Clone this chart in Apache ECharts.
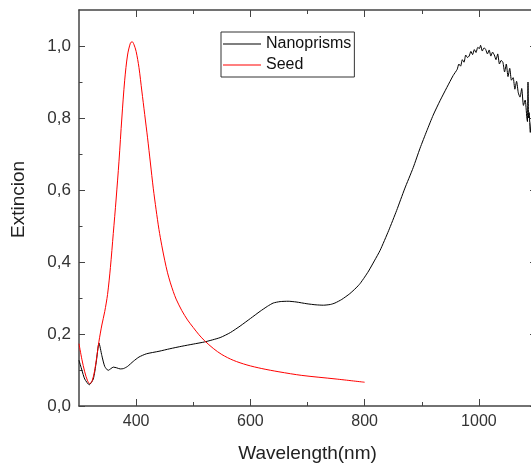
<!DOCTYPE html>
<html><head><meta charset="utf-8">
<script src="https://cdn.jsdelivr.net/npm/echarts@6/dist/echarts.min.js"></script>
<style>html,body{margin:0;padding:0;background:#fff}#c{width:531px;height:465px}</style>
</head><body><div id="c"></div>
<script>
const xMajor = [400, 600, 800, 1000];
const xMinor = [500, 700, 900, 1100];
const yMajor = [0, 0.2, 0.4, 0.6, 0.8, 1.0];
const yMinor = [0.1, 0.3, 0.5, 0.7, 0.9];

const seedWl = [300,305,310,315,319,323,327,331,335,340,345,350,355,360,365,370,375,380,385,390,393,396,400,405,410,415,420,425,430,435,440,445,450,455,460,465,470,480,490,500,510,520,535,550,570,594,620,650,690,750,800];
const seedExt = [0.173,0.130,0.095,0.070,0.062,0.070,0.095,0.135,0.180,0.225,0.262,0.310,0.385,0.479,0.575,0.680,0.800,0.905,0.975,1.008,1.012,1.005,0.985,0.940,0.875,0.810,0.745,0.675,0.605,0.545,0.490,0.445,0.405,0.370,0.342,0.318,0.297,0.265,0.239,0.218,0.198,0.181,0.160,0.143,0.127,0.114,0.104,0.095,0.085,0.075,0.066];

const prismWl = [300,305,310,318,325,330,335,340,345,351,356,360,366,372,378,385,395,405,418,440,459,480,500,520,547,565,582,600,617,630,640,652,666,680,699,715,728,740,748,760,774,785,792,800,807,817,827,842,856,870,885,897,909,920,932,944,955,962,965,968,971,974,977,980,983,986,989,992,995,998,1001,1003,1006,1009,1012,1015,1018,1021,1024,1027,1030,1033,1036,1039,1042,1045,1048,1051,1054,1057,1060,1063,1066,1069,1072,1075,1078,1081,1084,1085,1086,1087,1088,1090,1092,1094,1097,1100];
const prismExt = [0.127,0.100,0.075,0.059,0.075,0.120,0.175,0.140,0.110,0.099,0.104,0.108,0.106,0.103,0.104,0.110,0.124,0.136,0.145,0.152,0.159,0.166,0.172,0.178,0.190,0.204,0.222,0.243,0.263,0.277,0.286,0.290,0.291,0.289,0.284,0.281,0.280,0.282,0.286,0.296,0.312,0.328,0.340,0.358,0.375,0.403,0.432,0.487,0.543,0.603,0.662,0.716,0.765,0.808,0.848,0.885,0.918,0.935,0.950,0.944,0.962,0.955,0.975,0.968,0.972,0.985,0.976,0.990,0.982,0.996,0.993,1.002,0.986,0.995,0.990,0.978,0.989,0.972,0.983,0.975,0.962,0.978,0.950,0.960,0.955,0.928,0.950,0.915,0.938,0.905,0.912,0.880,0.902,0.870,0.858,0.882,0.835,0.850,0.800,0.790,0.900,0.800,0.815,0.760,0.790,0.745,0.780,0.750];

const FONT = '"Liberation Sans", Arial, sans-serif';
const AX = '#444';
const fmtY = v => v.toFixed(1).replace('.', ',');
const fmtX = v => String(v);

function xAx(pos, ticks, len, withLine, labels, extra) {
  return Object.assign({
    type: 'value', position: pos, min: 300, max: 1100,
    axisLine: {show: withLine, onZero: false, lineStyle: {color: AX, width: 1.5}},
    axisTick: {show: true, inside: true, length: len, customValues: ticks, lineStyle: {color: AX, width: 1}},
    axisLabel: labels ? {show: true, customValues: ticks, formatter: fmtX, fontSize: 16, fontFamily: FONT, color: '#333', margin: 8} : {show: false},
    splitLine: {show: false}
  }, extra || {});
}
function yAx(pos, ticks, len, withLine, labels, extra) {
  return Object.assign({
    type: 'value', position: pos, min: 0, max: 1.1,
    axisLine: {show: withLine, onZero: false, lineStyle: {color: AX, width: 1.5}},
    axisTick: {show: true, inside: true, length: len, customValues: ticks, lineStyle: {color: AX, width: 1}},
    axisLabel: labels ? {show: true, customValues: ticks, formatter: fmtY, fontSize: 17, fontFamily: FONT, color: '#333', margin: 8} : {show: false},
    splitLine: {show: false}
  }, extra || {});
}

const chart = echarts.init(document.getElementById('c'));
chart.setOption({
  animation: false,
  backgroundColor: '#fff',
  grid: {left: 79, top: 10, width: 457, height: 396, containLabel: false, outerBoundsMode: 'none'},
  legend: {
    orient: 'vertical', left: 221, top: 32,
    borderColor: '#333', borderWidth: 1, backgroundColor: '#fff',
    padding: [4, 3, 4, 2], itemGap: 5, itemWidth: 38, itemHeight: 1.2,
    icon: 'rect',
    textStyle: {fontSize: 16, fontFamily: FONT, color: '#111', lineHeight: 16},
    data: ['Nanoprisms', 'Seed']
  },
  xAxis: [
    xAx('bottom', xMajor, 7, true, true, {name: 'Wavelength(nm)', nameLocation: 'middle', nameGap: 38, nameTextStyle: {fontSize: 19, fontFamily: FONT, color: '#222'}}),
    xAx('bottom', xMinor, 4, false, false),
    xAx('top', xMajor, 7, true, false),
    xAx('top', xMinor, 4, false, false)
  ],
  yAxis: [
    yAx('left', yMajor, 6, true, true, {name: 'Extincion', nameLocation: 'middle', nameGap: 51, nameTextStyle: {fontSize: 19, fontFamily: FONT, color: '#222', padding: [0, 0, 0, 17]}}),
    yAx('left', yMinor, 3.5, false, false),
    yAx('right', yMajor, 6, true, false),
    yAx('right', yMinor, 3.5, false, false)
  ],
  series: [
    {name: 'Nanoprisms', type: 'line', xAxisIndex: 0, yAxisIndex: 0, symbol: 'none', smooth: 0.2,
     lineStyle: {color: '#000', width: 1}, itemStyle: {color: '#000'},
     data: prismWl.map((w, i) => [w, prismExt[i]])},
    {name: 'Seed', type: 'line', xAxisIndex: 0, yAxisIndex: 0, symbol: 'none', smooth: 0.3,
     lineStyle: {color: '#ff0000', width: 1}, itemStyle: {color: '#ff0000'},
     data: seedWl.map((w, i) => [w, seedExt[i]])}
  ]
});
</script></body></html>
